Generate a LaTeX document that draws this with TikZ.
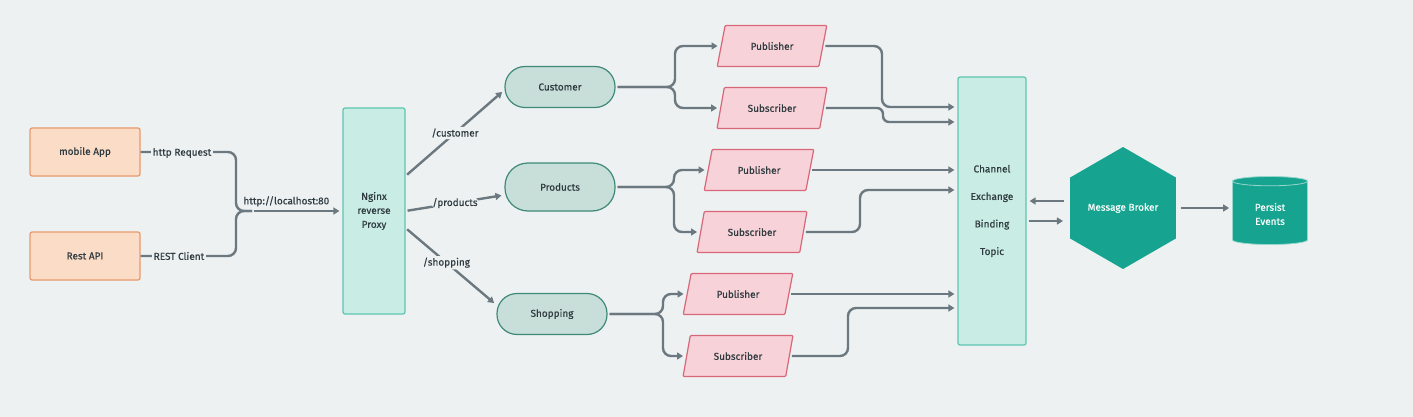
\documentclass[tikz,border=0pt]{standalone}
\usepackage{fontspec}
\setmainfont{Fira Sans}[UprightFeatures={FakeBold=0.5}]
\usetikzlibrary{shapes.geometric, arrows.meta, positioning}

\definecolor{bg}{HTML}{EDF1F2}
\definecolor{ink}{HTML}{2F3B40}
\definecolor{wire}{HTML}{6C787F}
\definecolor{orangefill}{HTML}{FBDCC7}
\definecolor{orangeline}{HTML}{E79B6C}
\definecolor{tealfill}{HTML}{C9EDE5}
\definecolor{tealline}{HTML}{5CC6AF}
\definecolor{svcfill}{HTML}{C8DED8}
\definecolor{svcline}{HTML}{3E8A76}
\definecolor{pinkfill}{HTML}{F7D2D8}
\definecolor{pinkline}{HTML}{D8677A}
\definecolor{broker}{HTML}{16A38F}

\begin{document}
\begin{tikzpicture}[x=1pt, y=-1pt, font=\fontsize{10}{12}\selectfont, text=ink,
    client/.style={draw=orangeline, fill=orangefill, line width=1.2pt, rounded corners=2pt,
      minimum width=110pt, minimum height=48pt},
    tall/.style={draw=tealline, fill=tealfill, line width=1.2pt, rounded corners=2pt, align=center},
    service/.style={draw=svcline, fill=svcfill, line width=1.2pt, rounded corners=20pt,
      minimum width=110pt, minimum height=41pt},
    queue/.style={trapezium, trapezium left angle=74, trapezium right angle=106,
      trapezium stretches=true, draw=pinkline, fill=pinkfill, line width=1.2pt,
      minimum width=110pt, minimum height=41pt, rounded corners=1pt},
    conn/.style={draw=wire, line width=2.4pt, rounded corners=8pt},
    arr/.style={conn, -{Triangle[length=6pt,width=7pt]}, shorten >=3pt, shorten <=2pt},
    lbl/.style={fill=bg, inner sep=1.5pt, text=ink}]

    % background and margins
    \fill[bg] (0,0) rectangle (1413,417);
    \useasboundingbox (0,0) rectangle (1413,417);

    % clients and proxy
    \node[client] (app) at (85,152) {mobile App};
    \node[client] (api) at (85,256) {Rest API};
    \node[tall, minimum width=62pt, minimum height=206pt, font=\fontsize{10}{14}\selectfont]
      (nginx) at (374,211) {Nginx\\reverse\\Proxy};

    % services
    \node[service] (cust) at (560,87) {Customer};
    \node[service, minimum height=48pt, rounded corners=23pt] (prod) at (560,187) {Products};
    \node[service] (shop) at (552,314) {Shopping};

    % publishers and subscribers
    \node[queue] (cpub) at (772,46) {Publisher};
    \node[queue] (csub) at (772,108) {Subscriber};
    \node[queue] (ppub) at (759,170) {Publisher};
    \node[queue] (psub) at (752,232) {Subscriber};
    \node[queue] (spub) at (738,294) {Publisher};
    \node[queue] (ssub) at (738,356) {Subscriber};

    % broker side
    \node[tall, minimum width=68pt, minimum height=268pt, font=\fontsize{10}{27.5}\selectfont]
      (chan) at (992,211) {Channel\\Exchange\\Binding\\Topic};
    \node[regular polygon, regular polygon sides=6, shape border rotate=30, minimum size=122pt,
      inner sep=0pt, fill=broker, text=white] (broker) at (1123,208) {Message Broker};
    \node[cylinder, shape border rotate=90, aspect=0.25, minimum width=75pt, minimum height=68pt,
      fill=broker, draw=white!55!broker, line width=0.8pt, text=white, align=center,
      font=\fontsize{10}{14}\selectfont] (store) at (1270,214) {Persist\\Events};

    % clients to proxy
    \coordinate (merge) at (252,211);
    \draw[conn] (app.east) -- (236,152) -- (236,211) -- (merge);
    \draw[conn] (api.east) -- (236,256) -- (236,211) -- (merge);
    \node[lbl] (httplbl) at (182,153) {http Request};
    \node[lbl] (restlbl) at (179,256) {REST Client};
    \draw[arr] (merge) -- (nginx.west) node[above, pos=0.38, text=ink] {http://localhost:80};

    % proxy to services
    \draw[arr] (nginx.east |- 0,176) -- ([yshift=-3pt]cust.west) node[lbl, midway] {/customer};
    \draw[arr] (nginx.east) -- ([yshift=-8pt]prod.west) node[lbl, midway] {/products};
    \draw[arr] (nginx.east |- 0,228) -- ([yshift=9pt]shop.west) node[lbl, pos=0.45] {/shopping};

    % services to queues
    \draw[arr] (cust.east) -- (675,87) |- (cpub.west);
    \draw[arr] (cust.east) -- (675,87) |- (csub.west);
    \draw[arr] (prod.east) -- (674,187) |- (ppub.west);
    \draw[arr] (prod.east) -- (674,187) |- (psub.west);
    \draw[arr] (shop.east) -- (663,314) |- (spub.west);
    \draw[arr] (shop.east) -- (663,314) |- (ssub.west);

    % queues to channel
    \draw[arr] (cpub.east) -- (882,46) |- (chan.west |- 0,107);
    \draw[arr, rounded corners=6pt] (csub.east) -- (883,108) -- (883,122) -- (chan.west |- 0,122);
    \draw[arr] (ppub.east) -- (chan.west |- ppub.east);
    \draw[arr] (psub.east) -- (860,232) |- (chan.west |- 0,190);
    \draw[arr] (spub.east) -- (chan.west |- spub.east);
    \draw[arr] (ssub.east) -- (848,356) |- (chan.west |- 0,308);

    % channel, broker and store
    \draw[arr, shorten <=6pt] (broker.west |- 0,201) -- (chan.east |- 0,201);
    \draw[arr, shorten >=7pt] (chan.east |- 0,221) -- (broker.west |- 0,221);
    \draw[arr, shorten <=5pt] (broker.east) -- (store.west |- broker.east);
\end{tikzpicture}
\end{document}
